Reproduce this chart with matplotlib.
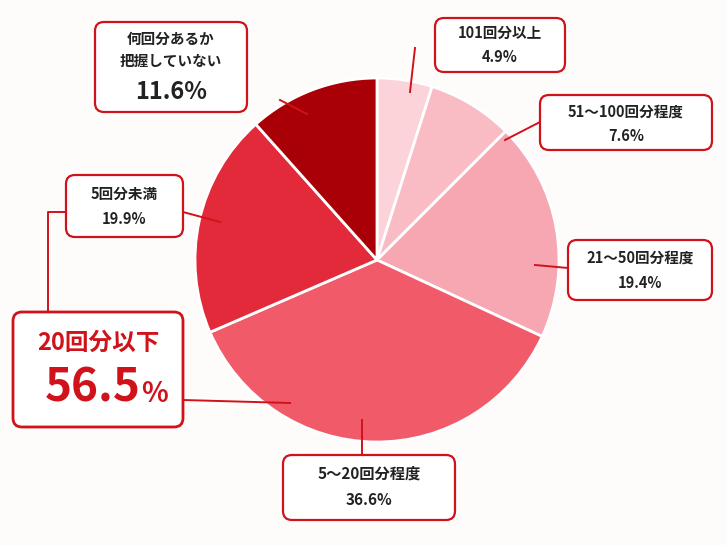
import matplotlib.pyplot as plt
from matplotlib.patches import FancyBboxPatch

plt.rcParams['font.family'] = ['Noto Sans CJK JP', 'DejaVu Sans']

labels = ['101回分以上', '51～100回分程度', '21～50回分程度', '5～20回分程度', '5回分未満', '何回分あるか\n把握していない']
values = [4.9, 7.6, 19.4, 36.6, 19.9, 11.6]
colors = ['#fcd3d9', '#f9bcc5', '#f6a7b2', '#f15b69', '#e32a3b', '#a80006']
RED = '#d0121b'

fig = plt.figure(figsize=(7.27, 5.45), dpi=100, facecolor='#fdfcfb')
ax = fig.add_axes([0, 0, 1, 1])

# inverted y: counterclock in data = clockwise on screen
ax.pie(values, colors=colors, startangle=-90, counterclock=True,
       center=(377, 260), radius=182, frame=True,
       wedgeprops=dict(edgecolor='white', linewidth=2))
ax.set_xlim(0, 727)
ax.set_ylim(545, 0)
ax.set_aspect('equal')
ax.axis('off')


def box(x0, y0, x1, y1, lw=1.6):
    p = FancyBboxPatch((x0, y0), x1 - x0, y1 - y0, boxstyle='round,pad=0,rounding_size=9',
                       facecolor='white', edgecolor=RED, linewidth=lw, zorder=5)
    ax.add_patch(p)


def line(xs, ys):
    ax.plot(xs, ys, color=RED, lw=1.4, zorder=4)


# leader lines
line([280, 307], [100, 114])
line([415, 410], [48, 92])
line([540, 505], [122, 140])
line([568, 535], [268, 265])
line([362, 362], [455, 420])
line([183, 220], [212, 222])
line([66, 48, 48], [212, 212, 312])
line([183, 290], [400, 403])

tk = dict(ha='center', va='center', color='#222222', fontweight='bold', zorder=6)

box(95, 22, 247, 112)
ax.text(171, 50, '何回分あるか\n把握していない', fontsize=10.5, linespacing=1.5, **tk)
ax.text(171, 92, '11.6%', fontsize=17, **tk)

box(435, 18, 565, 72)
ax.text(500, 33, labels[0], fontsize=10.5, **tk)
ax.text(500, 57, '4.9%', fontsize=10.5, **tk)

box(540, 95, 712, 150)
ax.text(626, 112, labels[1], fontsize=10.5, **tk)
ax.text(626, 136, '7.6%', fontsize=10.5, **tk)

box(568, 240, 712, 300)
ax.text(640, 258, labels[2], fontsize=10.5, **tk)
ax.text(640, 283, '19.4%', fontsize=10.5, **tk)

box(283, 455, 455, 520)
ax.text(369, 474, labels[3], fontsize=11, **tk)
ax.text(369, 500, '36.6%', fontsize=11, **tk)

box(66, 175, 183, 237)
ax.text(124, 194, labels[4], fontsize=10.5, **tk)
ax.text(124, 219, '19.9%', fontsize=10.5, **tk)

box(13, 312, 183, 427, lw=2)
ax.text(98, 343, '20回分以下', fontsize=17, ha='center', va='center',
        color=RED, fontweight='bold', zorder=6)
ax.text(141, 388, '56.5', fontsize=33, ha='right', va='center',
        color=RED, fontweight='bold', zorder=6)
ax.text(141, 394, '%', fontsize=20, ha='left', va='center',
        color=RED, fontweight='bold', zorder=6)

fig.savefig('out.png', dpi=100, facecolor=fig.get_facecolor())
